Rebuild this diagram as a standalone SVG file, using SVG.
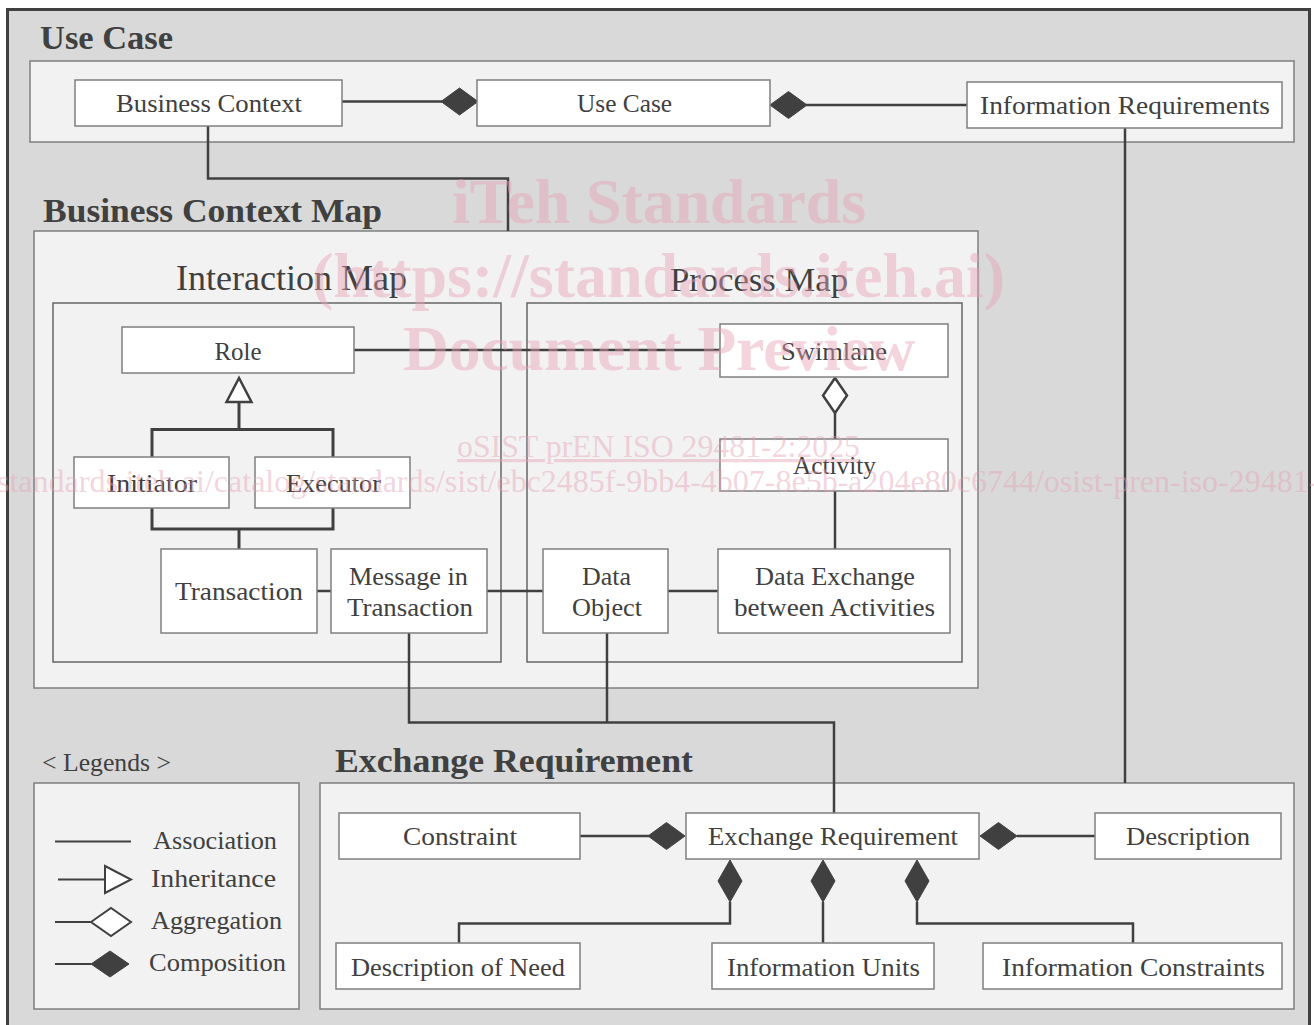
<svg xmlns="http://www.w3.org/2000/svg" xmlns:xlink="http://www.w3.org/1999/xlink" width="1314" height="1025" viewBox="0 0 1314 1025">
<style>
.frame{fill:#d9d9d9;stroke:#404040;stroke-width:3}
.panel{fill:#f2f2f2;stroke:#7f7f7f;stroke-width:1.5}
.sub{fill:#f2f2f2;stroke:#666;stroke-width:1.5}
.box{fill:#ffffff;stroke:#7f7f7f;stroke-width:1.5}
.conn{fill:none;stroke:#404040;stroke-width:2.5}
.thin{fill:none;stroke:#404040;stroke-width:2}
.comp{fill:#404040;stroke:#404040;stroke-width:1}
.hollow{fill:#ffffff;stroke:#404040;stroke-width:2.5}
.t{font-family:"Liberation Serif","Times New Roman",serif;font-size:26px;fill:#404040;text-anchor:middle}
.l{font-family:"Liberation Serif","Times New Roman",serif;font-size:26px;fill:#404040}
.title{font-family:"Liberation Serif","Times New Roman",serif;font-weight:bold;font-size:33px;fill:#404040}
.sect{font-family:"Liberation Serif","Times New Roman",serif;font-size:34px;fill:#404040;text-anchor:middle}
.wm{font-family:"Liberation Serif","Times New Roman",serif;fill:#e6a0b4;fill-opacity:0.45;text-anchor:middle}
</style>
<defs>
<path id="diaH" d="M0,0 L18.5,-13.5 L37,0 L18.5,13.5 Z"/>
<path id="diaV" d="M0,0 L12,21 L0,42 L-12,21 Z"/>
</defs>
<rect x="0" y="0" width="1314" height="1025" fill="#ffffff"/>
<rect class="frame" x="7.5" y="9.5" width="1302" height="1030"/>

<g id="use-case-section">
<text class="title" x="40" y="49" textLength="133" lengthAdjust="spacingAndGlyphs" style="font-size:34px">Use Case</text>
<rect class="panel" x="30" y="61" width="1264" height="81"/>
</g>
<g id="bcm-section">
<text class="title" x="43" y="222" textLength="339" lengthAdjust="spacingAndGlyphs">Business Context Map</text>
<rect class="panel" x="34" y="231" width="944" height="457"/>
<text class="sect" x="291.5" y="290" textLength="231" lengthAdjust="spacingAndGlyphs" style="font-size:36px">Interaction Map</text>
<rect class="sub" x="53" y="303" width="448" height="359"/>
<text class="sect" x="759" y="291" textLength="178" lengthAdjust="spacingAndGlyphs">Process Map</text>
<rect class="sub" x="527" y="303" width="435" height="359"/>
</g>
<g id="er-section">
<text class="title" x="335" y="772" textLength="358" lengthAdjust="spacingAndGlyphs">Exchange Requirement</text>
<rect class="panel" x="320" y="783" width="974" height="226"/>
</g>

<g id="connectors">
<path class="conn" d="M342,101.5 H442"/>
<path class="conn" d="M806,105 H967"/>
<path class="conn" d="M208,126 V178.5 H508 V231"/>
<path class="conn" d="M1125,128 V783"/>
<path class="conn" d="M354,350 H720"/>
<path class="conn" d="M239,402 V429.5 M152,457 V429.5 H333 V457" style="stroke-width:3"/>
<path class="conn" d="M152,508 V529 H333 V508 M239,529 V549" style="stroke-width:3"/>
<path class="conn" d="M835,413 V439"/>
<path class="conn" d="M835,491 V549"/>
<path class="conn" d="M317,591 H331"/>
<path class="conn" d="M487,591 H543"/>
<path class="conn" d="M668,591 H718"/>
<path class="conn" d="M409,633 V722.5 H834 V813"/>
<path class="conn" d="M607,633 V722.5"/>
<path class="conn" d="M580,836 H649"/>
<path class="conn" d="M1017,836 H1095"/>
<path class="conn" d="M730,902 V923.5 H459 V943"/>
<path class="conn" d="M823,902 V943"/>
<path class="conn" d="M917,902 V923.5 H1133 V943"/>
<use xlink:href="#diaH" class="comp" x="441" y="101.5"/>
<use xlink:href="#diaH" class="comp" x="770" y="105"/>
<use xlink:href="#diaH" class="comp" x="648" y="836"/>
<use xlink:href="#diaH" class="comp" x="980" y="836"/>
<use xlink:href="#diaV" class="comp" x="730" y="860"/>
<use xlink:href="#diaV" class="comp" x="823" y="860"/>
<use xlink:href="#diaV" class="comp" x="917" y="860"/>
<polygon class="hollow" points="239,378 226.5,402 251.5,402"/>
<polygon class="hollow" points="835,378 847,395.5 835,413 823,395.5"/>
</g>

<g id="node-business-context"><rect class="box" x="75" y="80" width="267" height="46"/><text class="t" x="209" y="112" textLength="186" lengthAdjust="spacingAndGlyphs">Business Context</text></g>
<g id="node-use-case"><rect class="box" x="477" y="80" width="293" height="46"/><text class="t" x="624.5" y="112" textLength="95" lengthAdjust="spacingAndGlyphs">Use Case</text></g>
<g id="node-information-requirements"><rect class="box" x="967" y="82" width="315" height="46"/><text class="t" x="1125" y="114" textLength="290" lengthAdjust="spacingAndGlyphs">Information Requirements</text></g>

<g id="node-role"><rect class="box" x="122" y="327" width="232" height="46"/><text class="t" x="238" y="359.5" textLength="47" lengthAdjust="spacingAndGlyphs">Role</text></g>
<g id="node-initiator"><rect class="box" x="74" y="457" width="155" height="51"/><text class="t" x="152" y="492" textLength="90" lengthAdjust="spacingAndGlyphs">Initiator</text></g>
<g id="node-executor"><rect class="box" x="255" y="457" width="155" height="51"/><text class="t" x="333.5" y="492" textLength="95" lengthAdjust="spacingAndGlyphs">Executor</text></g>
<g id="node-transaction"><rect class="box" x="161" y="549" width="156" height="84"/><text class="t" x="239" y="600" textLength="128" lengthAdjust="spacingAndGlyphs">Transaction</text></g>
<g id="node-message-in-transaction"><rect class="box" x="331" y="549" width="156" height="84"/><text class="t" x="408.5" y="585" textLength="119" lengthAdjust="spacingAndGlyphs">Message in</text><text class="t" x="410" y="615.5" textLength="126" lengthAdjust="spacingAndGlyphs">Transaction</text></g>

<g id="node-swimlane"><rect class="box" x="720" y="324" width="228" height="53"/><text class="t" x="834" y="360" textLength="106" lengthAdjust="spacingAndGlyphs">Swimlane</text></g>
<g id="node-activity"><rect class="box" x="720" y="439" width="228" height="52"/><text class="t" x="834.5" y="474" textLength="83" lengthAdjust="spacingAndGlyphs">Activity</text></g>
<g id="node-data-object"><rect class="box" x="543" y="549" width="125" height="84"/><text class="t" x="606.5" y="585" textLength="49" lengthAdjust="spacingAndGlyphs">Data</text><text class="t" x="607" y="616" textLength="70" lengthAdjust="spacingAndGlyphs">Object</text></g>
<g id="node-data-exchange"><rect class="box" x="718" y="549" width="232" height="84"/><text class="t" x="835" y="585" textLength="160" lengthAdjust="spacingAndGlyphs">Data Exchange</text><text class="t" x="834.5" y="616" textLength="201" lengthAdjust="spacingAndGlyphs">between Activities</text></g>

<g id="node-constraint"><rect class="box" x="339" y="813" width="241" height="46"/><text class="t" x="460" y="845" textLength="114" lengthAdjust="spacingAndGlyphs">Constraint</text></g>
<g id="node-exchange-requirement"><rect class="box" x="686" y="813" width="293" height="46"/><text class="t" x="833" y="845" textLength="250" lengthAdjust="spacingAndGlyphs">Exchange Requirement</text></g>
<g id="node-description"><rect class="box" x="1095" y="813" width="186" height="46"/><text class="t" x="1188" y="845" textLength="124" lengthAdjust="spacingAndGlyphs">Description</text></g>
<g id="node-description-of-need"><rect class="box" x="336" y="943" width="244" height="46"/><text class="t" x="458" y="975.5" textLength="214" lengthAdjust="spacingAndGlyphs">Description of Need</text></g>
<g id="node-information-units"><rect class="box" x="712" y="943" width="222" height="46"/><text class="t" x="823.5" y="975.5" textLength="193" lengthAdjust="spacingAndGlyphs">Information Units</text></g>
<g id="node-information-constraints"><rect class="box" x="983" y="943" width="299" height="46"/><text class="t" x="1133.5" y="975.5" textLength="263" lengthAdjust="spacingAndGlyphs">Information Constraints</text></g>

<g id="legend">
<text class="l" x="42" y="771" textLength="129" lengthAdjust="spacingAndGlyphs">&lt; Legends &gt;</text>
<rect class="panel" x="34" y="783" width="265" height="226"/>
<path class="thin" d="M55,841.5 H131"/>
<text class="l" x="153" y="848.5" textLength="124" lengthAdjust="spacingAndGlyphs">Association</text>
<path class="thin" d="M58,879.5 H105"/>
<polygon class="hollow" points="105,866 131,879.5 105,893" style="stroke-width:2"/>
<text class="l" x="151" y="887" textLength="125" lengthAdjust="spacingAndGlyphs">Inheritance</text>
<path class="thin" d="M55,922 H91"/>
<polygon class="hollow" points="91,922 111,908 131,922 111,936" style="stroke-width:2"/>
<text class="l" x="151" y="928.5" textLength="131" lengthAdjust="spacingAndGlyphs">Aggregation</text>
<path class="thin" d="M55,964 H91"/>
<polygon class="comp" points="91,964 110,951 129,964 110,977"/>
<text class="l" x="149" y="970.5" textLength="137" lengthAdjust="spacingAndGlyphs">Composition</text>
</g>

<g id="watermark">
<text class="wm" x="659" y="223" style="font-size:63px;font-weight:bold" textLength="414" lengthAdjust="spacingAndGlyphs">iTeh Standards</text>
<text class="wm" x="658.5" y="297" style="font-size:63px;font-weight:bold" textLength="693" lengthAdjust="spacingAndGlyphs">(https://standards.iteh.ai)</text>
<text class="wm" x="659" y="370" style="font-size:63px;font-weight:bold" textLength="512" lengthAdjust="spacingAndGlyphs">Document Preview</text>
<text class="wm" x="658.5" y="457" style="font-size:32px;text-decoration:underline" textLength="403" lengthAdjust="spacingAndGlyphs">oSIST prEN ISO 29481-2:2025</text>
<text class="wm" x="-3" y="492" style="font-size:32px;text-anchor:start">standards.iteh.ai/catalog/standards/sist/ebc2485f-9bb4-4b07-8e5b-a204e80c6744/osist-pren-iso-29481-2-2025</text>
</g>
</svg>
